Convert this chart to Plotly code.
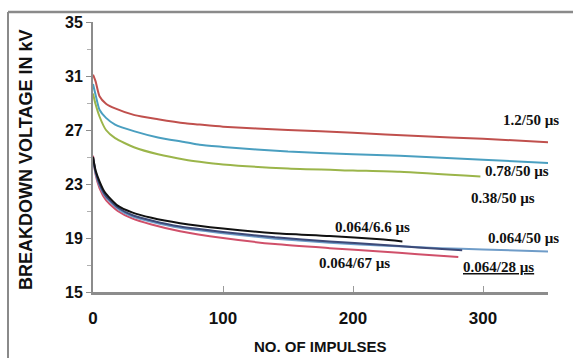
import plotly.graph_objects as go

# ---- data ----
x_12_50 = [0, 2, 5, 10, 17, 32, 50, 71, 82, 100, 150, 200, 250, 300, 350]
y_12_50 = [31.1, 30.6, 29.5, 28.95, 28.6, 28.1, 27.8, 27.5, 27.4, 27.25, 27.0, 26.8, 26.55, 26.35, 26.1]

x_078_50 = [0, 2, 5, 10, 17, 32, 50, 71, 82, 100, 150, 200, 236, 300, 352]
y_078_50 = [30.4, 29.6, 28.5, 27.9, 27.4, 26.9, 26.45, 26.1, 25.9, 25.75, 25.4, 25.2, 25.1, 24.8, 24.55]

x_038_50 = [0, 2, 5, 10, 17, 32, 50, 71, 82, 100, 150, 200, 236, 298]
y_038_50 = [29.7, 28.9, 28.0, 27.0, 26.4, 25.7, 25.2, 24.8, 24.65, 24.45, 24.15, 24.0, 23.9, 23.55]

x_064_66 = [0, 2, 5, 9, 19, 30, 45, 67, 100, 140, 182, 221, 238]
y_064_66 = [25.0, 24.0, 23.2, 22.4, 21.4, 20.9, 20.5, 20.1, 19.7, 19.35, 19.15, 18.9, 18.75]

x_064_28 = [0, 2, 5, 10, 20, 30, 45, 67, 100, 140, 182, 221, 250, 284]
y_064_28 = [25.0, 23.9, 23.0, 22.1, 21.2, 20.7, 20.3, 19.85, 19.45, 19.05, 18.75, 18.5, 18.3, 18.1]

x_064_50 = [0, 2, 5, 10, 20, 30, 45, 67, 100, 140, 182, 221, 267, 300, 350]
y_064_50 = [24.9, 23.8, 22.9, 22.0, 21.1, 20.6, 20.2, 19.75, 19.35, 18.95, 18.65, 18.45, 18.25, 18.15, 18.0]

x_064_67 = [0, 2, 5, 10, 19, 30, 45, 67, 100, 140, 182, 221, 250, 281]
y_064_67 = [25.1, 23.7, 22.7, 21.8, 21.0, 20.45, 20.0, 19.5, 19.0, 18.55, 18.25, 18.0, 17.8, 17.6]

labels = ["1.2/50 µs", "0.78/50 µs", "0.38/50 µs", "0.064/6.6 µs",
          "0.064/50 µs", "0.064/67 µs", "<u>0.064/28 µs</u>"]
label_x = [337, 326, 315, 215, 331.5, 201, 312]
label_y = [27.74, 23.96, 21.96, 19.8, 19.0, 17.15, 16.85]

x_ticks = [0, 100, 200, 300]
y_ticks = [15, 19, 23, 27, 31, 35]

series = [
    (x_12_50, y_12_50, "#c0504d", "1.2/50"),
    (x_078_50, y_078_50, "#4a9fc0", "0.78/50"),
    (x_038_50, y_038_50, "#9bb54a", "0.38/50"),
    (x_064_67, y_064_67, "#d0506a", "0.064/67"),
    (x_064_50, y_064_50, "#6f9cc8", "0.064/50"),
    (x_064_28, y_064_28, "#3d4a78", "0.064/28"),
    (x_064_66, y_064_66, "#111111", "0.064/6.6"),
]

fig = go.Figure()
for xs, ys, col, name in series:
    fig.add_trace(go.Scatter(x=xs, y=ys, mode="lines", name=name,
                             line=dict(color=col, width=2, shape="spline", smoothing=0.6),
                             showlegend=False))

for t, lx, ly in zip(labels, label_x, label_y):
    fig.add_annotation(x=lx, y=ly, xref="x", yref="y", text=f"<b>{t}</b>", showarrow=False,
                       font=dict(family="Liberation Serif", size=15, color="#111111"))

# axis titles
fig.add_annotation(x=0.5, y=-0.2, xref="paper", yref="paper",
                   text="<b>NO. OF IMPULSES</b>", showarrow=False,
                   xanchor="center", yanchor="middle",
                   font=dict(family="Liberation Sans", size=15, color="#111111"))
fig.add_annotation(x=-0.149, y=0.49, xref="paper", yref="paper",
                   text="<b>BREAKDOWN VOLTAGE IN kV</b>", showarrow=False, textangle=-90,
                   xanchor="center", yanchor="middle",
                   font=dict(family="Liberation Sans", size=18, color="#111111"))

# outer frame (top and left edges)
fig.add_shape(type="line", xref="paper", yref="paper",
              x0=-0.1868, y0=1.037, x1=1.2, y1=1.037,
              line=dict(color="#8a8a8a", width=2.5))
fig.add_shape(type="line", xref="paper", yref="paper",
              x0=-0.1868, y0=-0.4, x1=-0.1868, y1=1.037,
              line=dict(color="#8a8a8a", width=2))

fig.update_layout(
    width=573, height=358,
    margin=dict(l=93, r=25, t=22, b=66),
    paper_bgcolor="white", plot_bgcolor="white",
    xaxis=dict(range=[0, 350], tickvals=x_ticks, ticktext=[f"<b>{v}</b>" for v in x_ticks],
               showgrid=False, zeroline=False, showline=True, linecolor="#8c8c8c", linewidth=3,
               ticks="inside", ticklen=6, tickcolor="#9a9a9a", tickwidth=1,
               ticklabelstandoff=9,
               tickfont=dict(family="Liberation Sans", size=17, color="#111111")),
    yaxis=dict(range=[15, 35], tickvals=y_ticks, ticktext=[f"<b>{v}</b>" for v in y_ticks],
               showgrid=False, zeroline=False, showline=True, linecolor="#8c8c8c", linewidth=2,
               ticks="outside", ticklen=5, tickcolor="#8c8c8c", tickwidth=1,
               minor=dict(dtick=2, tick0=15, ticks="outside", ticklen=4, tickcolor="#b0b0b0"),
               tickfont=dict(family="Liberation Sans", size=16, color="#111111")),
)

fig.write_html("out.html")
